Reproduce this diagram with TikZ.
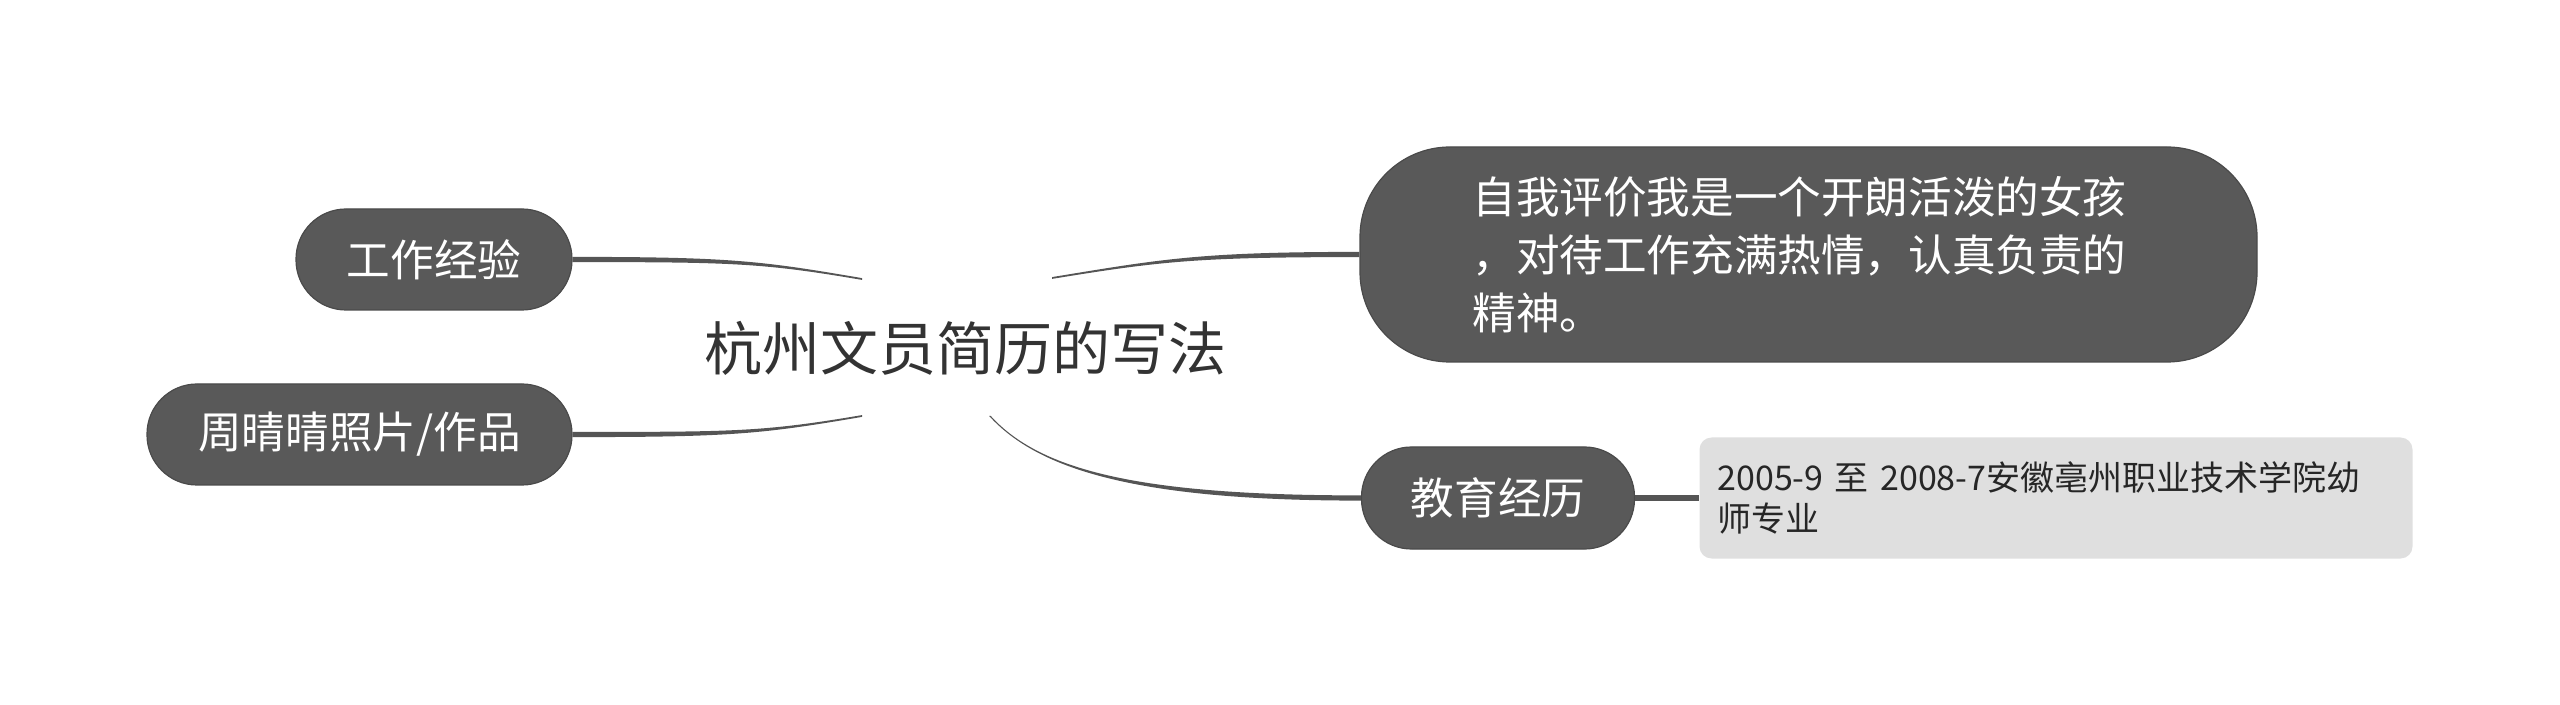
\documentclass[tikz,border=0pt]{standalone}
\usepackage{fontspec}
\setmainfont{Noto Sans CJK SC}
\usepackage{tikz}
\usetikzlibrary{positioning}

\definecolor{topicgray}{HTML}{595959}
\definecolor{topicedge}{HTML}{4A4A4A}
\definecolor{linkgray}{HTML}{555555}
\definecolor{detailgray}{HTML}{DFDFDF}
\definecolor{titlegray}{HTML}{333333}

\tikzset{
  title/.style={text=titlegray, inner sep=0pt, font=\fontsize{29}{35}\selectfont},
  topic/.style={fill=topicgray, draw=topicedge, line width=0.6pt, text=white,
    rounded corners=25pt, minimum height=50.5pt, inner sep=0pt,
    font=\fontsize{21.8}{29}\selectfont},
  detail/.style={fill=detailgray, rounded corners=6pt, text=black!85,
    minimum height=60.5pt, inner xsep=9pt, text width=338.5pt, align=left,
    font=\fontsize{17}{20.5}\selectfont},
  link/.style={fill=linkgray},
  bar/.style={draw=linkgray, line width=2.7pt}
}

\begin{document}
\begin{tikzpicture}[x=0.5pt, y=-0.5pt]
\useasboundingbox (0,0) rectangle (2560,705);
% central topic
\node[title] (root) at (965,348) {杭州文员简历的写法};
\coordinate (tl) at (862,279);
\coordinate (bl) at (862,416);
\coordinate (tr) at (1052,278);
\coordinate (br) at (990,416);
% left branches
\node[topic, minimum width=138pt] (work) at (434,259.5) {工作经验};
\node[topic, minimum width=212.5pt] (photo) at (359.5,434.5) {周晴晴照片/作品};
% right branches
\node[topic, rounded corners=45pt, minimum width=448.5pt, minimum height=107.5pt,
  text width=336pt, align=left] (self) at (1808.5,254.5)
  {自我评价我是一个开朗活泼的女孩\\，对待工作充满热情，认真负责的\\精神。};
\node[topic, minimum width=136.5pt, minimum height=51pt] (edu) at (1498,498) {教育经历};
\node[detail, right=32pt of edu] (school)
  {2005-9 至 2008-7安徽亳州职业技术学院幼\\师专业};
% tapered links
\fill[link] ([yshift=0.45pt]tl) .. controls +(-100,-17) and +(160,0) .. ([yshift=1.3pt]work.east)
  -- ([yshift=-1.3pt]work.east) .. controls +(160,0) and +(-100,-17) .. ([yshift=-0.45pt]tl) -- cycle;
\fill[link] ([yshift=0.45pt]bl) .. controls +(-100,17) and +(160,0) .. ([yshift=1.3pt]photo.east)
  -- ([yshift=-1.3pt]photo.east) .. controls +(160,0) and +(-100,17) .. ([yshift=-0.45pt]bl) -- cycle;
\fill[link] ([yshift=0.45pt]tr) .. controls +(110,-18) and +(-160,0) .. ([yshift=1.3pt]self.west)
  -- ([yshift=-1.3pt]self.west) .. controls +(-160,0) and +(110,-18) .. ([yshift=-0.45pt]tr) -- cycle;
\fill[link] ([xshift=0.4pt]br) .. controls +(50,55) and +(-220,0) .. ([yshift=1.3pt]edu.west)
  -- ([yshift=-1.3pt]edu.west) .. controls +(-220,0) and +(50,55) .. ([xshift=-0.4pt]br) -- cycle;
\draw[bar] (edu.east) -- (school.west);
\end{tikzpicture}
\end{document}
